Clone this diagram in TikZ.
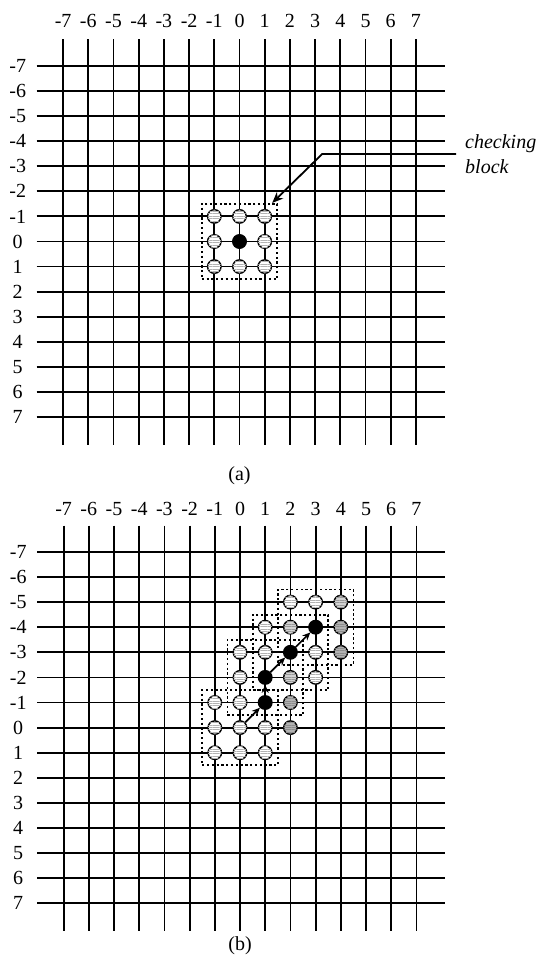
\documentclass[tikz,border=0pt]{standalone}
\usepackage{fontspec}
\setmainfont{Liberation Serif}
\usetikzlibrary{arrows.meta,patterns.meta,calc}
\begin{document}
\begin{tikzpicture}[x=1pt,y=-1pt,
  gridline/.style={line width=1.8pt},
  lbl/.style={font=\fontsize{20}{24}\selectfont, inner sep=0pt},
  blockbox/.style={draw, dash pattern=on 2.2pt off 2.6pt, line width=1.8pt,
    minimum width=75.6pt, minimum height=75.3pt, inner sep=0pt},
  cbase/.style={circle, draw, line width=1.4pt, minimum size=13.5pt, inner sep=0pt},
  lightc/.style={cbase, fill=white,
    postaction={pattern={Lines[angle=0,distance=2.4pt,line width=0.7pt]}, pattern color=gray!60}},
  midc/.style={cbase, fill=gray!35,
    postaction={pattern={Lines[angle=0,distance=2.4pt,line width=0.7pt]}, pattern color=gray!80}},
  darkc/.style={cbase, fill=gray!60,
    postaction={pattern={Lines[angle=0,distance=2.4pt,line width=0.7pt]}, pattern color=gray!90}},
  blackc/.style={cbase, fill=black},
  moveto/.style={-{Stealth[length=8pt,width=7pt]}, line width=1.7pt},
]
\useasboundingbox (0,0) rectangle (543,965);

% ---------------- (a) ----------------
\begin{scope}[shift={(239.5pt,-241.5pt)}, x=25.2pt, y=-25.1pt]
  \foreach \c in {-7,...,7} \draw[gridline] (\c,-8.05) -- (\c,8.1);
  \foreach \r in {-7,...,7} \draw[gridline] (-8.05,\r) -- (8.15,\r);
  \foreach \c in {-7,...,7} \node[lbl] (ta\c) at (\c,-8.8) {\c};
  \foreach \r in {-7,...,7} \node[lbl] (la\r) at (-8.8,\r) {\r};
  \node[blockbox] (blockA) at (0,0) {};
  \foreach \c/\r in {-1/-1,0/-1,1/-1,-1/0,1/0,-1/1,0/1,1/1}
    \node[lightc] (a\c\r) at (\c,\r) {};
  \node[blackc] (acenter) at (0,0) {};
  \node[lbl] (capA) at (0,9.35) {(a)};
\end{scope}

\node[font=\fontsize{20}{25}\selectfont\itshape, align=left, anchor=west,
  inner xsep=9pt, inner ysep=0pt] (chk) at (456,154) {checking\\block};
\coordinate (tipA) at ($(blockA.north east)+(-6,0)$);
\coordinate (bendA) at ($(tipA)+(50,-50)$);
\draw[line width=1.8pt, -{Stealth[length=11pt,width=9pt]}]
  (chk.west) -- (chk.west -| bendA) -- (tipA);

% ---------------- (b) ----------------
\begin{scope}[shift={(240pt,-727.6pt)}, x=25.2pt, y=-25.1pt]
  \foreach \c in {-7,...,7} \draw[gridline] (\c,-8.05) -- (\c,8.1);
  \foreach \r in {-7,...,7} \draw[gridline] (-8.05,\r) -- (8.15,\r);
  \foreach \c in {-7,...,7} \node[lbl] (tb\c) at (\c,-8.72) {\c};
  \foreach \r in {-7,...,7} \node[lbl] (lb\r) at (-8.8,\r) {\r};
  \node[blockbox] (blk1) at (0,0) {};
  \node[blockbox] (blk2) at (1,-2) {};
  \node[blockbox] (blk3) at (2,-3) {};
  \node[blockbox] (blk4) at (3,-4) {};
  \foreach \c/\r in {-1/-1,0/-1,-1/0,0/0,1/0,-1/1,0/1,1/1,0/-2,0/-3,1/-3,3/-3,3/-2,1/-4,2/-5,3/-5}
    \node[lightc] (b\c\r) at (\c,\r) {};
  \foreach \c/\r in {2/-2,2/-4,4/-5}
    \node[midc] (b\c\r) at (\c,\r) {};
  \foreach \c/\r in {2/-1,2/0,4/-4,4/-3}
    \node[darkc] (b\c\r) at (\c,\r) {};
  \foreach \c/\r in {1/-1,1/-2,2/-3,3/-4}
    \node[blackc] (b\c\r) at (\c,\r) {};
  \draw[moveto] (b00) -- (b1-1);
  \draw[moveto] (b1-1) -- (b1-2);
  \draw[moveto] (b1-2) -- (b2-3);
  \draw[moveto] (b2-3) -- (b3-4);
  \node[lbl] (capB) at (0,8.7) {(b)};
\end{scope}
\end{tikzpicture}
\end{document}
